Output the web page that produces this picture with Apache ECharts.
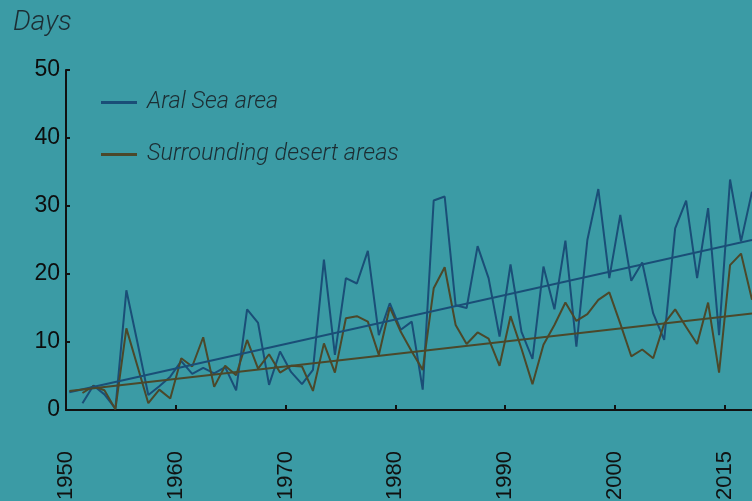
<!DOCTYPE html>
<html>
<head>
<meta charset="utf-8">
<script src="https://cdn.jsdelivr.net/npm/echarts@6/dist/echarts.min.js"></script>
<style>
  html, body { margin: 0; padding: 0; background: #3b9ba5; }
  #chart { width: 752px; height: 501px; }
</style>
</head>
<body>
<div id="chart"></div>
<script>
// years of observation (plotted at mid-year)
var years = [
  1951, 1952, 1953, 1954, 1955, 1956, 1957, 1958, 1959, 1960,
  1961, 1962, 1963, 1964, 1965, 1966, 1967, 1968, 1969, 1970,
  1971, 1972, 1973, 1974, 1975, 1976, 1977, 1978, 1979, 1980,
  1981, 1982, 1983, 1984, 1985, 1986, 1987, 1988, 1989, 1990,
  1991, 1992, 1993, 1994, 1995, 1996, 1997, 1998, 1999, 2000,
  2001, 2002, 2003, 2004, 2005, 2006, 2007, 2008, 2009, 2010,
  2011, 2012
];

// Aral Sea area - days
var aralDays = [
  1.0, 3.6, 2.3, 0.2, 17.6, 10.0, 2.2, 3.5, 4.9, 7.2,
  5.3, 6.2, 5.4, 6.3, 2.9, 14.8, 12.8, 3.7, 8.6, 5.6,
  3.8, 5.9, 22.1, 8.1, 19.4, 18.6, 23.4, 11.0, 15.7, 11.8,
  13.0, 3.0, 30.8, 31.4, 15.4, 15.0, 24.1, 19.4, 10.8, 21.4,
  11.5, 7.5, 21.1, 14.8, 24.9, 9.3, 25.0, 32.5, 19.4, 28.7,
  19.0, 21.7, 14.2, 10.3, 26.7, 30.8, 19.4, 29.7, 11.0, 33.9,
  24.8, 32.1
];

// Surrounding desert areas - days
var desertDays = [
  2.5, 3.5, 2.9, 0.1, 12.0, 6.5, 1.0, 3.0, 1.7, 7.6,
  6.4, 10.7, 3.4, 6.5, 5.1, 10.3, 6.1, 8.2, 5.5, 6.5,
  6.4, 2.8, 9.8, 5.5, 13.5, 13.8, 13.0, 8.1, 15.1, 11.5,
  8.6, 5.9, 17.9, 21.0, 12.5, 9.7, 11.4, 10.5, 6.5, 13.8,
  9.0, 3.8, 9.6, 12.5, 15.8, 13.1, 14.1, 16.2, 17.3, 12.7,
  7.9, 8.9, 7.6, 12.7, 14.8, 12.2, 9.7, 15.8, 5.5, 21.3,
  23.0, 16.2
];

// trend line end points
var aralTrend = [[1950.3, 2.6], [2012.5, 25.0]];
var desertTrend = [[1950.3, 2.8], [2012.5, 14.2]];

// tick labels as printed (last tick reads 2015)
var xTickLabels = ['1950', '1960', '1970', '1980', '1990', '2000', '2015'];

var seriesNames = ['Aral Sea area', 'Surrounding desert areas'];
var aralColor = '#1a4e77';
var desertColor = '#4b482a';
var textColor = '#1c2d33';

function toPoints(vals) {
  var res = [];
  for (var i = 0; i < years.length; i++) {
    res.push([years[i] + 0.5, vals[i]]);
  }
  return res;
}

var myChart = echarts.init(document.getElementById('chart'));

var option = {
  backgroundColor: '#3b9ba5',
  animation: false,
  title: {
    text: 'Days',
    left: 8,
    top: 4,
    textStyle: {
      fontFamily: 'Roboto',
      fontStyle: 'italic',
      fontWeight: 300,
      fontSize: 28,
      color: textColor
    }
  },
  legend: {
    data: seriesNames,
    orient: 'vertical',
    left: 101,
    top: 91,
    padding: 0,
    icon: 'rect',
    itemWidth: 36,
    itemHeight: 3,
    itemGap: 29,
    textStyle: {
      fontFamily: 'Roboto',
      fontStyle: 'italic',
      fontWeight: 300,
      fontSize: 23.5,
      color: textColor,
      padding: [0, 0, 0, 5]
    }
  },
  grid: {
    left: 66,
    right: 0,
    top: 70,
    bottom: 91,
    outerBoundsMode: 'none'
  },
  xAxis: {
    type: 'value',
    min: 1950,
    max: 2012.5,
    interval: 10,
    splitLine: { show: false },
    axisLine: { lineStyle: { color: '#111', width: 2 } },
    axisTick: { inside: true, length: 5, lineStyle: { color: '#111', width: 2 } },
    axisLabel: {
      rotate: 90,
      margin: 41,
      fontFamily: 'Liberation Sans',
      fontSize: 22,
      color: '#111',
      showMaxLabel: false,
      formatter: function (v) {
        var k = Math.round((v - 1950) / 10);
        return xTickLabels[k] || '';
      }
    }
  },
  yAxis: {
    type: 'value',
    min: 0,
    max: 50,
    interval: 10,
    splitLine: { show: false },
    axisLine: { show: true, lineStyle: { color: '#111', width: 2 } },
    axisTick: { show: true, inside: true, length: 4, lineStyle: { color: '#111', width: 2 } },
    axisLabel: {
      margin: 6,
      fontFamily: 'Liberation Sans',
      fontSize: 23,
      color: '#0d0d0d'
    }
  },
  series: [
    {
      name: seriesNames[0],
      type: 'line',
      data: toPoints(aralDays),
      symbol: 'none',
      color: aralColor,
      lineStyle: { width: 2, color: aralColor },
      z: 3
    },
    {
      name: seriesNames[1],
      type: 'line',
      data: toPoints(desertDays),
      symbol: 'none',
      color: desertColor,
      lineStyle: { width: 2, color: desertColor },
      z: 4
    },
    {
      name: 'Aral trend',
      type: 'line',
      data: aralTrend,
      symbol: 'none',
      lineStyle: { width: 2, color: aralColor },
      z: 5
    },
    {
      name: 'Desert trend',
      type: 'line',
      data: desertTrend,
      symbol: 'none',
      lineStyle: { width: 2, color: desertColor },
      z: 5
    }
  ]
};

myChart.setOption(option);
window.addEventListener('resize', function () {
  myChart.resize();
});
</script>
</body>
</html>
